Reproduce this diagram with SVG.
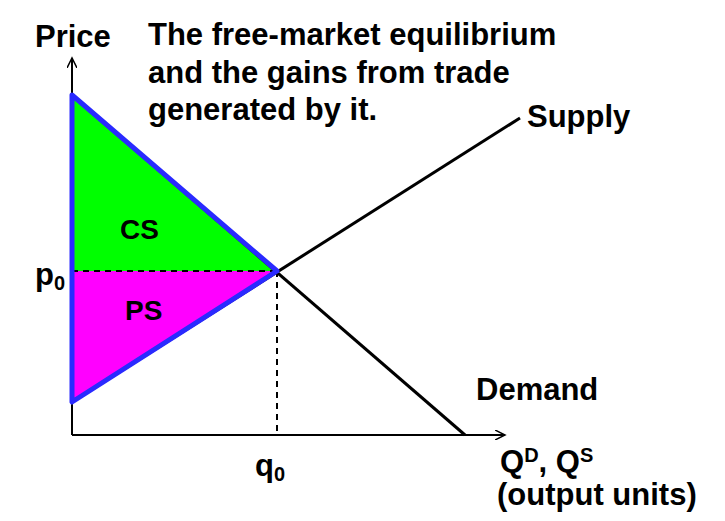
<svg xmlns="http://www.w3.org/2000/svg" width="725" height="521" viewBox="0 0 725 521">
<style>
text{font-family:"Liberation Sans",Arial,sans-serif;font-weight:bold;fill:#000}
.t{font-size:31px}.l{font-size:28px}
.ax{stroke:#000;stroke-width:2;fill:none}
.ln{stroke:#000;stroke-width:3;fill:none}
.d{stroke:#000;stroke-width:2;stroke-dasharray:6,5;fill:none}
</style>
<defs><marker id="ar" markerWidth="12" markerHeight="10" refX="10" refY="5" orient="auto" markerUnits="userSpaceOnUse"><path d="M0,0 L10,5 L0,10" fill="none" stroke="#000" stroke-width="1.5"/></marker></defs>
<rect width="725" height="521" fill="#fff"/>
<g id="areas">
<polygon points="72,95 277,271 72,271" fill="#00ff00"/>
<polygon points="72,271 277,271 72,402" fill="#ff00ff"/>
</g>
<g id="connectors">
<line class="ax" x1="72" y1="435" x2="72" y2="58" marker-end="url(#ar)"/>
<line class="ax" x1="72" y1="435" x2="505" y2="435" marker-end="url(#ar)"/>
<line class="ln" x1="72" y1="95" x2="465" y2="435"/>
<line class="ln" x1="72" y1="402" x2="520" y2="118"/>
<line class="d" x1="72" y1="271" x2="277" y2="271"/>
<line class="d" x1="277" y1="271" x2="277" y2="435"/>
<polygon points="72,95 277,271 72,402" fill="none" stroke="#2a2aff" stroke-width="5" stroke-linejoin="round"/>
</g>
<g id="labels">
<text class="t" x="35" y="47">Price</text>
<text class="t" x="148" y="45">The free-market equilibrium</text>
<text class="t" x="148" y="83">and the gains from trade</text>
<text class="t" x="148" y="120">generated by it.</text>
<text class="t" x="527" y="127">Supply</text>
<text class="l" x="120" y="239">CS</text>
<text class="l" x="125" y="320">PS</text>
<text class="t" x="35" y="285">p<tspan font-size="20" dy="5">0</tspan></text>
<text class="t" x="255" y="476">q<tspan font-size="20" dy="5">0</tspan></text>
<text class="t" x="476" y="400">Demand</text>
<text class="t" x="500" y="472">Q<tspan font-size="20" dy="-10">D</tspan><tspan dy="10">, Q</tspan><tspan font-size="20" dy="-10">S</tspan></text>
<text class="t" x="497" y="505">(output units)</text>
</g>
</svg>
